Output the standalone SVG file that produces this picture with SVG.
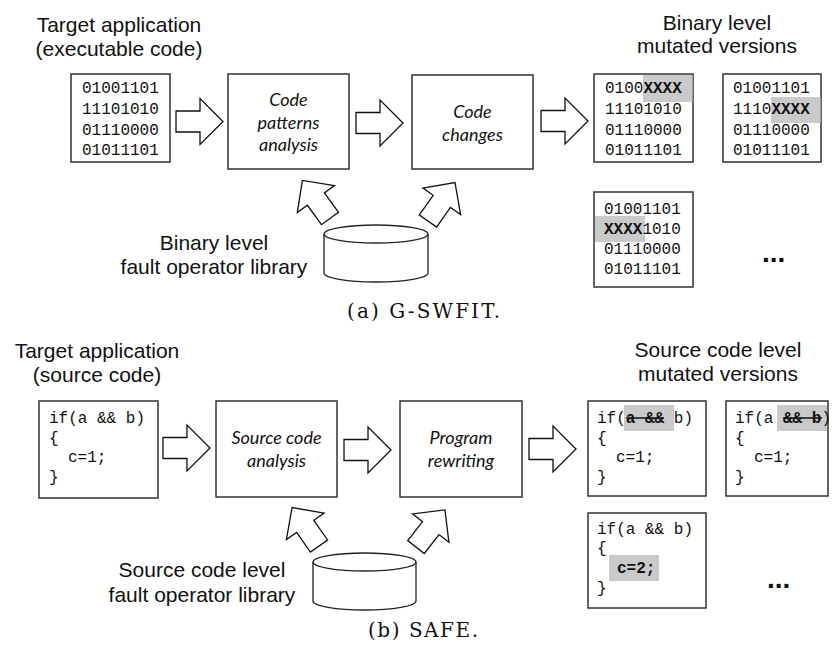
<svg xmlns="http://www.w3.org/2000/svg" width="834" height="648" viewBox="0 0 834 648">
<style>
.bx{fill:#fff;stroke:#333;stroke-width:1.5}
.ar{fill:#fff;stroke:#111;stroke-width:1.3;stroke-linejoin:miter}
.lb{font-family:"Liberation Sans",Arial,sans-serif;font-size:21px;fill:#111;text-anchor:middle}
.it{font-family:Lato,"Open Sans",sans-serif;font-style:italic;font-size:18px;fill:#111;text-anchor:middle}
.mo{font-family:"Liberation Mono","Courier New",monospace;font-size:16px;fill:#111}
.b{font-weight:bold}
.hl{fill:#cacaca}
.cap{font-family:"DejaVu Serif","Liberation Serif",serif;font-size:20px;fill:#111;text-anchor:middle}
.dots{font-family:"Liberation Sans",Arial,sans-serif;font-size:28px;font-weight:bold;fill:#111}
.cyl{fill:#fff;stroke:#222;stroke-width:1.3}
.st{stroke:#111;stroke-width:1.6}
</style>
<defs>
<path id="harrow" d="M0,-10.5 H24 V-23 L47,0 L24,23 V10.5 H0 Z"/>
</defs>

<!-- (a) G-SWFIT -->
<g id="label-target-a">
<text class="lb" x="119" y="32">Target application</text>
<text class="lb" x="119" y="56">(executable code)</text>
</g>
<g id="target-binary">
<rect class="bx" x="71" y="74" width="99" height="88"/>
<text class="mo" x="82" y="93">01001101</text>
<text class="mo" x="82" y="114">11101010</text>
<text class="mo" x="82" y="135">01110000</text>
<text class="mo" x="82" y="155">01011101</text>
</g>
<g id="code-patterns-analysis">
<rect class="bx" x="228" y="74" width="121" height="95"/>
<text class="it" x="288.5" y="106">Code</text>
<text class="it" x="288.5" y="128.5">patterns</text>
<text class="it" x="288.5" y="151">analysis</text>
</g>
<g id="code-changes">
<rect class="bx" x="412" y="75" width="121" height="94"/>
<text class="it" x="472.5" y="118">Code</text>
<text class="it" x="472.5" y="140.5">changes</text>
</g>
<g id="label-mutated-a">
<text class="lb" x="717" y="30">Binary level</text>
<text class="lb" x="717" y="53">mutated versions</text>
</g>
<g id="mutant-a1">
<rect class="bx" x="594" y="74" width="99" height="88"/>
<rect class="hl" x="643" y="75" width="49.5" height="27"/>
<text class="mo" x="605" y="93">0100<tspan class="b">XXXX</tspan></text>
<text class="mo" x="605" y="114">11101010</text>
<text class="mo" x="605" y="135">01110000</text>
<text class="mo" x="605" y="155">01011101</text>
</g>
<g id="mutant-a2">
<rect class="bx" x="723" y="74" width="98" height="88"/>
<rect class="hl" x="771" y="97" width="49.5" height="26"/>
<text class="mo" x="733" y="93">01001101</text>
<text class="mo" x="733" y="114">1110<tspan class="b">XXXX</tspan></text>
<text class="mo" x="733" y="135">01110000</text>
<text class="mo" x="733" y="155">01011101</text>
</g>
<g id="mutant-a3">
<rect class="bx" x="594" y="192" width="99" height="95"/>
<rect class="hl" x="595" y="216" width="50" height="26"/>
<text class="mo" x="604" y="213.5">01001101</text>
<text class="mo" x="604" y="233.5"><tspan class="b">XXXX</tspan>1010</text>
<text class="mo" x="604" y="253.5">01110000</text>
<text class="mo" x="604" y="273.5">01011101</text>
</g>
<g id="more-a">
<text class="dots" x="762" y="262">...</text>
</g>
<g id="library-a">
<path class="cyl" d="M324,234 V273 A52,9 0 0 0 428,273 V234"/>
<ellipse class="cyl" cx="376" cy="234" rx="52" ry="9"/>
</g>
<g id="label-library-a">
<text class="lb" x="214" y="250">Binary level</text>
<text class="lb" x="214" y="274">fault operator library</text>
</g>
<g id="caption-a">
<text class="cap" x="423.5" y="318" textLength="153" lengthAdjust="spacing">(a) G-SWFIT.</text>
</g>

<!-- (b) SAFE -->
<g id="label-target-b">
<text class="lb" x="97" y="358">Target application</text>
<text class="lb" x="97" y="382">(source code)</text>
</g>
<g id="target-source">
<rect class="bx" x="39" y="401" width="119" height="97"/>
<text class="mo" x="49" y="423">if(a &amp;&amp; b)</text>
<text class="mo" x="49" y="443">{</text>
<text class="mo" x="68" y="462">c=1;</text>
<text class="mo" x="49" y="482">}</text>
</g>
<g id="source-code-analysis">
<rect class="bx" x="216" y="401" width="121" height="96"/>
<text class="it" x="276.5" y="444">Source code</text>
<text class="it" x="276.5" y="467">analysis</text>
</g>
<g id="program-rewriting">
<rect class="bx" x="400" y="401" width="122" height="96"/>
<text class="it" x="461" y="444">Program</text>
<text class="it" x="461" y="467">rewriting</text>
</g>
<g id="label-mutated-b">
<text class="lb" x="718" y="357">Source code level</text>
<text class="lb" x="718" y="381">mutated versions</text>
</g>
<g id="mutant-b1">
<rect class="bx" x="588" y="401" width="118" height="95"/>
<rect class="hl" x="624" y="405" width="50" height="26"/>
<text class="mo" x="597" y="423">if(<tspan class="b">a &amp;&amp;</tspan> b)</text>
<line class="st" x1="626" y1="418" x2="664" y2="418"/>
<text class="mo" x="597" y="443">{</text>
<text class="mo" x="616" y="462">c=1;</text>
<text class="mo" x="597" y="482">}</text>
</g>
<g id="mutant-b2">
<rect class="bx" x="726" y="401" width="102" height="95"/>
<rect class="hl" x="777" y="405" width="50" height="26"/>
<text class="mo" x="735" y="423">if(a <tspan class="b">&amp;&amp; b</tspan>)</text>
<line class="st" x1="783" y1="418" x2="822" y2="418"/>
<text class="mo" x="735" y="443">{</text>
<text class="mo" x="754" y="462">c=1;</text>
<text class="mo" x="735" y="482">}</text>
</g>
<g id="mutant-b3">
<rect class="bx" x="588" y="513" width="118" height="95"/>
<rect class="hl" x="609" y="555" width="50" height="26"/>
<text class="mo" x="597" y="534">if(a &amp;&amp; b)</text>
<text class="mo" x="597" y="553">{</text>
<text class="mo b" x="617" y="573">c=2;</text>
<text class="mo" x="597" y="593">}</text>
</g>
<g id="more-b">
<text class="dots" x="767" y="588">...</text>
</g>
<g id="library-b">
<path class="cyl" d="M313,562 V601 A51.5,9 0 0 0 416,601 V562"/>
<ellipse class="cyl" cx="364.5" cy="562" rx="51.5" ry="9"/>
</g>
<g id="label-library-b">
<text class="lb" x="202" y="577">Source code level</text>
<text class="lb" x="202" y="602">fault operator library</text>
</g>
<g id="caption-b">
<text class="cap" x="423" y="637" textLength="110" lengthAdjust="spacing">(b) SAFE.</text>
</g>

<g id="connectors">
<use href="#harrow" class="ar" transform="translate(176,121.5)"/>
<use href="#harrow" class="ar" transform="translate(356,123)"/>
<use href="#harrow" class="ar" transform="translate(541,121)"/>
<use href="#harrow" class="ar" transform="translate(330,218.5) rotate(-126)"/>
<use href="#harrow" class="ar" transform="translate(428,221) rotate(-55)"/>
<use href="#harrow" class="ar" transform="translate(163,448)"/>
<use href="#harrow" class="ar" transform="translate(344,450)"/>
<use href="#harrow" class="ar" transform="translate(529,449)"/>
<use href="#harrow" class="ar" transform="translate(319,546) rotate(-125)"/>
<use href="#harrow" class="ar" transform="translate(416,547) rotate(-52)"/>
</g>
</svg>
